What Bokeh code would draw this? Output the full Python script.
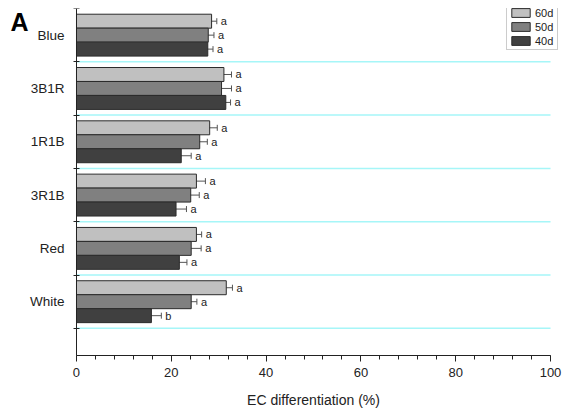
from bokeh.plotting import figure
from bokeh.models import (ColumnDataSource, FixedTicker, SingleIntervalTicker, Whisker,
                          TeeHead, Legend, LegendItem, Label)
from bokeh.core.properties import value
from bokeh.embed import file_html
from bokeh.resources import INLINE

# Treatments, listed top to bottom
treatments = ["Blue", "3B1R", "1R1B", "3R1B", "Red", "White"]
ages = ["60d", "50d", "40d"]

# EC differentiation (%) per treatment, one list per age
ec_60d = [28.5, 31.1, 28.1, 25.3, 25.3, 31.6]
ec_50d = [27.8, 30.6, 26.0, 24.1, 24.2, 24.2]
ec_40d = [27.7, 31.5, 22.1, 21.0, 21.7, 15.8]

# Standard errors
se_60d = [1.1, 1.6, 1.6, 1.9, 1.1, 1.3]
se_50d = [1.2, 2.1, 1.6, 1.8, 2.1, 1.2]
se_40d = [1.1, 1.0, 2.1, 2.2, 1.6, 2.1]

# Significance letters
sig_60d = ["a", "a", "a", "a", "a", "a"]
sig_50d = ["a", "a", "a", "a", "a", "a"]
sig_40d = ["a", "a", "a", "a", "a", "b"]

FONT = "Liberation Sans"
fills = {"60d": "#c0c0c0", "50d": "#808080", "40d": "#404040"}

n = len(treatments)
centers = [n - 0.5 - i for i in range(n)]  # Blue at the top
separators = list(range(0, n))
bar_h = 0.262
offsets = {"60d": bar_h, "50d": 0.0, "40d": -bar_h}
series = {"60d": (ec_60d, se_60d, sig_60d),
          "50d": (ec_50d, se_50d, sig_50d),
          "40d": (ec_40d, se_40d, sig_40d)}

# The frame covers the whole canvas; both axes are pinned inside it
p = figure(width=563, height=414, x_range=(-16.03, 102.74), y_range=(-1.616, n),
           output_backend="svg", toolbar_location=None,
           min_border_left=0, min_border_right=0, min_border_top=8,
           min_border_bottom=0)
p.outline_line_color = None
p.background_fill_color = "white"
p.border_fill_color = "white"
p.grid.grid_line_color = None

# x axis along y = -0.5, spanning 0..100
p.xaxis.fixed_location = -0.5
p.xaxis.bounds = (0, 100)
p.xaxis.ticker = SingleIntervalTicker(interval=20, num_minor_ticks=5)
p.xaxis.major_tick_out = 6
p.xaxis.major_tick_in = 0
p.xaxis.minor_tick_out = 4
p.xaxis.minor_tick_in = 0
p.xaxis.axis_line_color = "#222222"
p.xaxis.major_tick_line_color = "#222222"
p.xaxis.minor_tick_line_color = "#222222"
p.xaxis.major_label_text_font = FONT
p.xaxis.major_label_text_font_size = "13px"
p.xaxis.major_label_text_color = "#222222"
p.xaxis.major_label_standoff = 7

# y axis at x = 0: labels at group centres, ticks at group boundaries
p.yaxis.fixed_location = 0
p.yaxis.bounds = (-0.5, n)
p.yaxis.ticker = FixedTicker(ticks=centers, minor_ticks=list(range(0, n + 1)))
p.yaxis.major_label_overrides = {c: t for c, t in zip(centers, treatments)}
p.yaxis.major_tick_out = 0
p.yaxis.major_tick_in = 0
p.yaxis.minor_tick_out = 3
p.yaxis.minor_tick_in = 3
p.yaxis.axis_line_color = "#222222"
p.yaxis.minor_tick_line_color = "#222222"
p.yaxis.major_label_text_font = FONT
p.yaxis.major_label_text_font_size = "13.5px"
p.yaxis.major_label_text_color = "#222222"
p.yaxis.major_label_standoff = 9

# cyan separators between treatment groups
p.segment(x0=0, x1=100, y0=separators, y1=separators,
          line_color="#a6f6f8", line_width=1.5)

legend_items = []
for age in ages:
    vals, errs, sigs = series[age]
    ys = [c + offsets[age] for c in centers]
    src = ColumnDataSource(dict(
        y=ys, x=vals,
        lo=[v - e for v, e in zip(vals, errs)],
        hi=[v + e for v, e in zip(vals, errs)],
        sig=sigs))
    r = p.hbar(y="y", left=0, right="x", height=bar_h, source=src,
               fill_color=fills[age], line_color="#2b2b2b", line_width=1)
    legend_items.append(LegendItem(label=age, renderers=[r]))
    w = Whisker(source=src, base="y", lower="lo", upper="hi", dimension="width",
                line_color="#555555", line_width=1,
                lower_head=TeeHead(size=6, line_color="#555555", line_width=1),
                upper_head=TeeHead(size=6, line_color="#555555", line_width=1))
    p.add_layout(w)
    p.text(x="hi", y="y", text="sig", source=src, x_offset=4,
           text_font=value(FONT), text_font_size="11px", text_color="#222222",
           text_align="left", text_baseline="middle")

legend = Legend(items=legend_items, location=(506, 364.5), orientation="vertical",
                padding=2, spacing=2, margin=0, glyph_width=23, glyph_height=11,
                label_height=11, label_standoff=3, label_text_font=FONT,
                label_text_font_size="11px", label_text_color="#222222",
                border_line_color="#999999", border_line_width=1,
                background_fill_alpha=1.0)
p.add_layout(legend)

# x axis title
p.add_layout(Label(x=50, y=-1.34, text="EC differentiation (%)", text_font=FONT,
                   text_font_size="14px", text_color="#222222",
                   text_align="center", text_baseline="middle"))

# panel letter
p.add_layout(Label(x=-13.92, y=5.746, text="A",
                   text_font=FONT, text_font_size="25px", text_font_style="bold",
                   text_color="black", text_baseline="alphabetic"))

open("out.html", "w").write(file_html(p, INLINE))
